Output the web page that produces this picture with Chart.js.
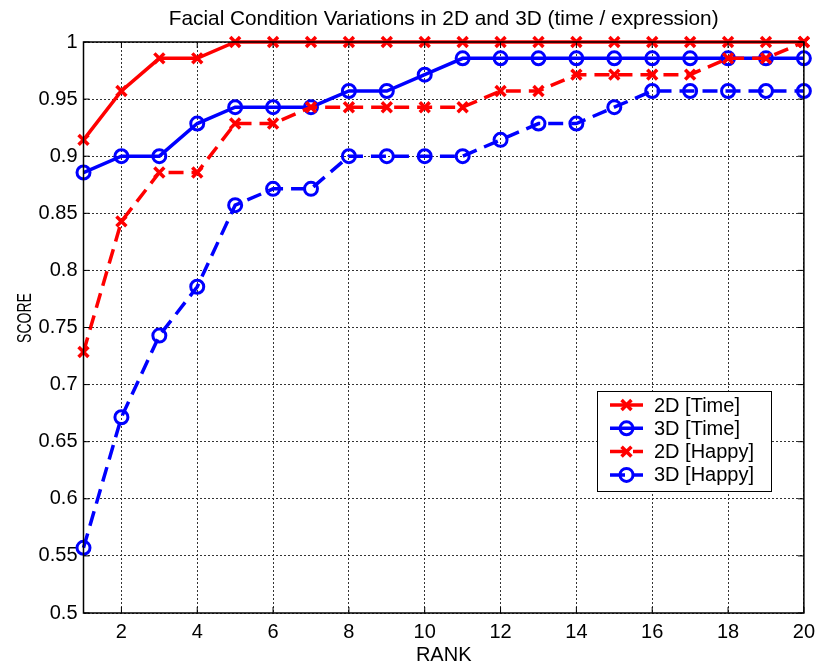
<!DOCTYPE html>
<html>
<head>
<meta charset="utf-8">
<script src="https://cdn.jsdelivr.net/npm/chart.js@4/dist/chart.umd.min.js"></script>
<style>
  html, body { margin: 0; padding: 0; background: #fff; }
  canvas { display: block; }
</style>
</head>
<body>
<canvas id="chartCanvas" width="822" height="669"></canvas>
<script>
// --- data ---
const ranks = [1, 2, 3, 4, 5, 6, 7, 8, 9, 10, 11, 12, 13, 14, 15, 16, 17, 18, 19, 20];
const time2D = [0.9143, 0.9571, 0.9857, 0.9857, 1, 1, 1, 1, 1, 1, 1, 1, 1, 1, 1, 1, 1, 1, 1, 1];
const time3D = [0.8857, 0.9, 0.9, 0.9286, 0.9429, 0.9429, 0.9429, 0.9571, 0.9571, 0.9714,
  0.9857, 0.9857, 0.9857, 0.9857, 0.9857, 0.9857, 0.9857, 0.9857, 0.9857, 0.9857];
const happy2D = [0.7286, 0.8429, 0.8857, 0.8857, 0.9286, 0.9286, 0.9429, 0.9429, 0.9429, 0.9429,
  0.9429, 0.9571, 0.9571, 0.9714, 0.9714, 0.9714, 0.9714, 0.9857, 0.9857, 1];
const happy3D = [0.5571, 0.6714, 0.7429, 0.7857, 0.8571, 0.8714, 0.8714, 0.9, 0.9, 0.9,
  0.9, 0.9143, 0.9286, 0.9286, 0.9429, 0.9571, 0.9571, 0.9571, 0.9571, 0.9571];

const seriesNames = ["2D [Time]", "3D [Time]", "2D [Happy]", "3D [Happy]"];
const xTicks = [2, 4, 6, 8, 10, 12, 14, 16, 18, 20];
const yTicks = [0.5, 0.55, 0.6, 0.65, 0.7, 0.75, 0.8, 0.85, 0.9, 0.95, 1];
const yTickLabels = ["0.5", "0.55", "0.6", "0.65", "0.7", "0.75", "0.8", "0.85", "0.9", "0.95", "1"];
const titleText = "Facial Condition Variations in 2D and 3D (time / expression)";
const yTitle = "SCORE";
const xTitle = "RANK";

const FONT = "'Liberation Sans', Arial, Helvetica, sans-serif";
const RED = "#ff0000";
const BLUE = "#0000ff";
const DASH = [15, 8];

const toPoints = vals => vals.map((v, i) => ({ x: ranks[i], y: v }));

function makeSet(label, vals, color, marker, dashed, order) {
  return {
    label,
    data: toPoints(vals),
    borderColor: color,
    backgroundColor: "rgba(0,0,0,0)",
    borderWidth: 3.5,
    borderDash: dashed ? DASH : [],
    pointStyle: marker,
    pointRadius: marker === "circle" ? 6.5 : 7,
    pointBorderWidth: marker === "circle" ? 3 : 3.5,
    pointBorderColor: color,
    pointBackgroundColor: "rgba(0,0,0,0)",
    tension: 0,
    clip: false,
    order
  };
}

// title, y label, box, inward ticks and the matlab-like legend
const matlabAxes = {
  id: "matlabAxes",
  afterDraw(chart) {
    const { ctx, chartArea: a, scales } = chart;
    ctx.save();

    // title centred over the axes
    ctx.fillStyle = "#000";
    ctx.font = "20.8px " + FONT;
    ctx.textAlign = "center";
    ctx.textBaseline = "alphabetic";
    ctx.fillText(titleText, (a.left + a.right) / 2, 25);

    // y label, squeezed along its length like the original
    ctx.save();
    ctx.translate(24.5, 318);
    ctx.rotate(-Math.PI / 2);
    ctx.scale(0.7, 1);
    ctx.font = "20px " + FONT;
    ctx.textBaseline = "middle";
    ctx.fillText(yTitle, 0, 1);
    ctx.restore();

    ctx.strokeStyle = "#000";
    ctx.lineWidth = 1.5;
    ctx.setLineDash([]);
    ctx.strokeRect(a.left, a.top, a.right - a.left, a.bottom - a.top);

    const tl = 6;
    ctx.lineWidth = 1;
    ctx.beginPath();
    xTicks.forEach(v => {
      const px = scales.x.getPixelForValue(v);
      ctx.moveTo(px, a.bottom); ctx.lineTo(px, a.bottom - tl);
      ctx.moveTo(px, a.top); ctx.lineTo(px, a.top + tl);
    });
    yTicks.forEach(v => {
      const py = scales.y.getPixelForValue(v);
      ctx.moveTo(a.left, py); ctx.lineTo(a.left + tl, py);
      ctx.moveTo(a.right, py); ctx.lineTo(a.right - tl, py);
    });
    ctx.stroke();

    // legend
    const box = { x: 597, y: 391, w: 174, h: 100 };
    ctx.fillStyle = "#fff";
    ctx.fillRect(box.x, box.y, box.w, box.h);
    ctx.strokeStyle = "#000";
    ctx.lineWidth = 1;
    ctx.strokeRect(box.x + 0.5, box.y + 0.5, box.w, box.h);

    ctx.font = "20px " + FONT;
    ctx.textBaseline = "middle";
    ctx.textAlign = "left";
    chart.data.datasets.forEach((ds, i) => {
      const y = 405 + i * 23.3;
      ctx.strokeStyle = ds.borderColor;
      ctx.lineWidth = ds.borderWidth;
      ctx.setLineDash(ds.borderDash);
      ctx.beginPath();
      ctx.moveTo(610, y); ctx.lineTo(643, y);
      ctx.stroke();
      ctx.setLineDash([]);
      ctx.fillStyle = "rgba(0,0,0,0)";
      ctx.lineWidth = ds.pointBorderWidth;
      Chart.helpers.drawPoint(ctx, {
        pointStyle: ds.pointStyle,
        radius: ds.pointRadius,
        borderWidth: ds.pointBorderWidth,
        rotation: 0
      }, 626.5, y);
      ctx.fillStyle = "#000";
      ctx.fillText(ds.label, 654, y + 1);
    });
    ctx.restore();
  }
};

const canvas = document.getElementById("chartCanvas");

new Chart(canvas, {
  type: "line",
  data: {
    datasets: [
      makeSet(seriesNames[0], time2D, RED, "crossRot", false, 4),
      makeSet(seriesNames[1], time3D, BLUE, "circle", false, 3),
      makeSet(seriesNames[2], happy2D, RED, "crossRot", true, 2),
      makeSet(seriesNames[3], happy3D, BLUE, "circle", true, 1)
    ]
  },
  options: {
    responsive: false,
    animation: false,
    devicePixelRatio: 1,
    layout: { padding: { left: 0, right: 15.5, top: 42, bottom: 0 } },
    plugins: {
      legend: { display: false },
      tooltip: { enabled: false },
      title: { display: false }
    },
    scales: {
      x: {
        type: "linear",
        min: 1,
        max: 20,
        afterBuildTicks: s => { s.ticks = xTicks.map(v => ({ value: v })); },
        afterFit: s => { s.height = 56; },
        border: { display: false, dash: [2, 2] },
        grid: { color: "#333", lineWidth: 1, drawTicks: false },
        ticks: {
          color: "#000",
          padding: 7,
          maxRotation: 0,
          font: { family: FONT, size: 20 },
          callback: v => String(v)
        },
        title: {
          display: true,
          text: xTitle,
          color: "#000",
          font: { family: FONT, size: 20 },
          padding: { top: 0, bottom: 1.5 }
        }
      },
      y: {
        min: 0.5,
        max: 1,
        afterBuildTicks: s => { s.ticks = yTicks.map(v => ({ value: v })); },
        afterFit: s => { s.width = 83.5; },
        border: { display: false, dash: [2, 2] },
        grid: { color: "#333", lineWidth: 1, drawTicks: false },
        ticks: {
          color: "#000",
          padding: 6,
          font: { family: FONT, size: 20 },
          callback: (v, i) => yTickLabels[i]
        }
      }
    }
  },
  plugins: [matlabAxes]
});
</script>
</body>
</html>
